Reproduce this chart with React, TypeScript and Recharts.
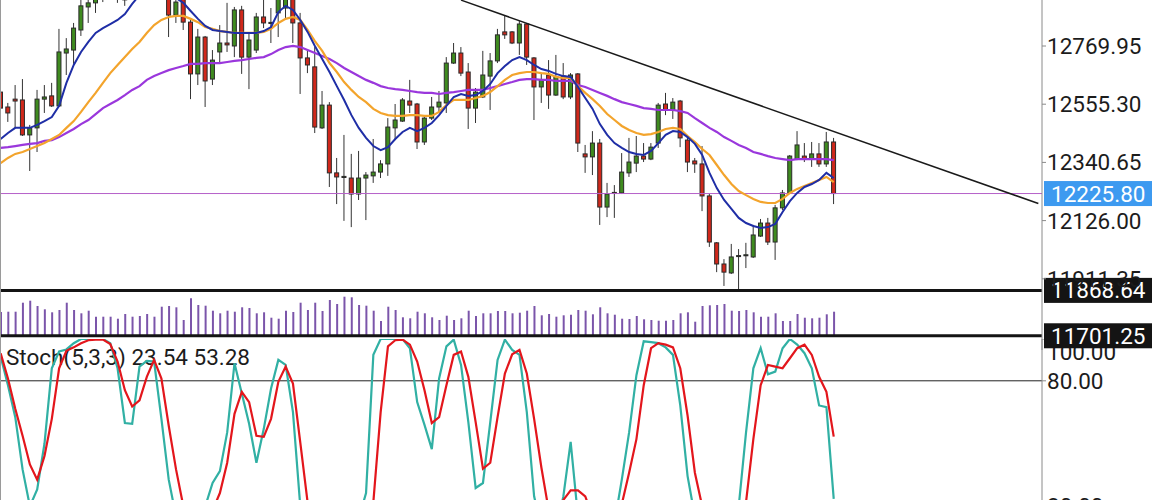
import React from 'react';
import { ComposedChart, Bar, Line, XAxis, YAxis, ReferenceLine } from 'recharts';

// ---------- price data (one entry per session) ----------
const OPEN = [
  12600,12545,12574,12571,12442,12468,12574,12586,12549,12744,
  12755,12829,12914,12929,12954,12977,12984,12940,12984,13013,
  13043,13080,13050,12958,12884,12951,12858,12667,12803,12648,
  12748,12781,12770,12903,12729,12755,12877,12853,12892,12910,
  12947,12855,12726,12693,12468,12552,12302,12285,12283,12224,
  12283,12291,12305,12335,12468,12493,12567,12556,12416,12504,
  12545,12560,12707,12744,12674,12541,12582,12659,12715,12822,
  12822,12781,12851,12726,12619,12663,12589,12659,12582,12667,
  12372,12361,12412,12176,12230,12228,12302,12338,12364,12353,
  12412,12556,12534,12567,12423,12346,12335,12217,12044,11966,
  11933,11995,11998,11992,12069,12117,12047,12173,12228,12353,
  12364,12353,12372,12335,12416,
];
const HIGH = [
  12626,12560,12626,12648,12479,12608,12626,12634,12833,12799,
  12855,12951,12958,12969,13013,13043,13013,12999,13069,13106,
  13124,13117,13087,12984,12958,12969,12873,12833,12807,12755,
  12847,12929,12914,12918,12818,12892,12947,12910,12977,12995,
  12969,12892,12755,12766,12604,12563,12357,12442,12372,12383,
  12305,12427,12349,12504,12556,12578,12645,12560,12515,12582,
  12604,12729,12781,12766,12707,12615,12752,12744,12833,12884,
  12825,12862,12855,12729,12670,12718,12737,12707,12670,12670,
  12405,12456,12427,12265,12257,12375,12431,12438,12412,12412,
  12560,12597,12578,12571,12434,12357,12401,12224,12047,11984,
  12040,12021,12044,12110,12132,12136,12184,12239,12368,12456,
  12412,12416,12412,12453,12431,
];
const LOW = [
  12527,12490,12468,12438,12309,12379,12523,12545,12545,12663,
  12704,12807,12855,12892,12932,12954,12929,12918,12958,12984,
  13013,13006,12969,12803,12855,12829,12574,12626,12545,12626,
  12707,12748,12729,12667,12611,12744,12836,12781,12803,12866,
  12781,12593,12670,12449,12464,12250,12187,12125,12102,12202,
  12128,12265,12283,12291,12423,12490,12523,12390,12405,12497,
  12523,12523,12704,12659,12464,12486,12578,12534,12707,12796,
  12777,12737,12700,12497,12560,12538,12586,12574,12574,12379,
  12302,12294,12110,12139,12136,12224,12287,12305,12342,12349,
  12394,12515,12501,12397,12305,12302,12161,12029,11936,11885,
  11929,11863,11951,11988,12066,12036,11981,12165,12224,12349,
  12342,12324,12324,12324,12187,
];
const CLOSE = [
  12541,12523,12567,12442,12468,12574,12582,12549,12748,12759,
  12836,12918,12929,12947,12984,13013,12954,12969,13032,13069,
  13087,13032,12995,12884,12932,12858,12667,12803,12641,12718,
  12781,12774,12903,12729,12792,12877,12855,12857,12958,12969,
  12855,12726,12700,12471,12552,12302,12287,12289,12224,12283,
  12294,12305,12335,12471,12497,12571,12552,12416,12504,12545,
  12563,12707,12744,12670,12541,12600,12663,12715,12811,12811,
  12781,12851,12729,12619,12645,12589,12656,12582,12663,12412,
  12361,12412,12176,12224,12226,12305,12342,12364,12353,12397,
  12552,12534,12563,12431,12342,12335,12217,12047,11966,11936,
  11992,11997,12000,12073,12117,12047,12173,12228,12364,12405,
  12353,12372,12335,12416,12225.8,
];

// ---------- moving averages ----------
const MA_FAST = [
  12427,12449,12468,12468,12468,12479,12493,12508,12549,12634,
  12700,12748,12785,12818,12836,12851,12866,12888,12925,12958,
  12977,12984,12977,12962,12947,12929,12899,12870,12844,12829,
  12825,12822,12818,12818,12818,12818,12825,12840,12895,12918,
  12903,12866,12822,12770,12722,12674,12622,12571,12515,12468,
  12431,12401,12386,12397,12427,12453,12468,12456,12468,12486,
  12515,12549,12582,12593,12586,12589,12604,12630,12670,12696,
  12718,12729,12718,12700,12685,12678,12667,12659,12656,12619,
  12578,12538,12482,12442,12412,12394,12379,12372,12368,12383,
  12412,12442,12456,12453,12434,12409,12368,12302,12246,12202,
  12169,12136,12117,12106,12099,12102,12114,12158,12198,12228,
  12250,12261,12276,12302,12283,
];
const MA_MID = [
  12338,12357,12372,12379,12390,12401,12412,12427,12442,12468,
  12493,12527,12563,12597,12634,12670,12700,12729,12759,12785,
  12818,12847,12866,12877,12881,12881,12870,12858,12840,12833,
  12825,12822,12818,12818,12818,12818,12822,12833,12855,12870,
  12877,12866,12829,12788,12752,12707,12674,12637,12608,12582,
  12563,12538,12523,12515,12512,12512,12515,12515,12512,12512,
  12527,12552,12571,12571,12571,12578,12586,12600,12622,12645,
  12663,12670,12674,12674,12670,12667,12656,12652,12652,12622,
  12597,12574,12549,12519,12497,12475,12460,12449,12442,12445,
  12453,12464,12468,12464,12438,12416,12390,12368,12331,12294,
  12261,12235,12220,12206,12195,12191,12191,12206,12228,12243,
  12254,12265,12276,12287,12268,
];
const MA_SLOW = [
  12394,12397,12401,12405,12409,12412,12420,12423,12434,12449,
  12464,12482,12497,12519,12541,12556,12571,12589,12608,12622,
  12645,12659,12670,12681,12689,12696,12704,12704,12707,12707,
  12707,12711,12715,12718,12722,12726,12729,12740,12755,12766,
  12770,12766,12755,12744,12733,12722,12707,12689,12674,12659,
  12645,12634,12622,12615,12611,12608,12604,12600,12597,12597,
  12593,12597,12600,12604,12608,12608,12608,12615,12622,12630,
  12637,12645,12648,12648,12645,12645,12641,12641,12641,12626,
  12619,12608,12597,12586,12574,12563,12556,12549,12541,12538,
  12534,12534,12534,12530,12523,12504,12486,12468,12453,12434,
  12420,12405,12394,12379,12372,12364,12357,12353,12349,12353,
  12353,12353,12353,12353,12349,
];

// ---------- volume ----------
const VOLUME = [
  230,233,233,323,343,290,257,227,250,323,
  250,217,243,183,183,183,163,210,183,190,
  210,183,283,290,277,150,367,300,293,243,
  217,243,233,277,270,217,227,173,163,243,
  230,323,250,323,240,350,310,383,377,300,
  293,243,140,283,250,177,167,233,217,177,
  150,193,150,167,243,190,217,217,240,240,
  217,223,243,290,197,210,183,197,203,250,
  243,207,277,217,203,163,160,190,157,150,
  143,143,150,217,227,133,290,297,300,310,
  243,240,250,227,183,183,217,140,140,210,
  173,167,173,207,233,
];

// ---------- stochastic (5,3,3) ----------
const STOCH_K = [
  91.6,77.9,62.6,37.6,20,28,50,86,94,95,
  98,100,100,100,100,98,86,59.8,59.4,86.8,
  89.5,89.2,61.8,32.7,15,5,3,8,20,31.1,
  36.8,55.3,88.4,73.9,59.4,40.8,56.9,76.3,90,87.6,
  65,20,8,3,2,5,3,4,8,14,
  26.3,92.4,100,100,100,100,95.6,69.8,58.9,47.3,
  81.1,96.5,99.7,87.6,60.2,28.7,31.1,60.2,90,99.7,
  94.8,92.4,65,24.7,10,3,8,24.7,50.8,15,
  5,3,2,5,12,32.7,55.3,82.7,98.9,98.5,
  98,96,92.4,68.2,34.4,15,5,2,2,3,
  8,20,55.3,86,95.6,83.1,84.4,95.6,100,97.3,
  93.2,86,68.2,67.4,23.54,
];
const STOCH_D = [
  93.2,81.1,66.6,53.7,40,32.7,44,61.8,86,94.4,
  96,98,99.4,99.7,99.7,97.6,89.2,75.5,67.7,70.6,
  81.9,90,81.1,58.5,37.6,20,10,7,10,18,
  26.3,40.8,64.2,74.7,69.8,53.7,53.2,61.8,79.5,86.8,
  78.7,50.5,22,12,6,3,4,4,5,8,
  15,22,65,96.5,99.4,99.7,97.3,89.2,75.5,59.8,
  62.6,77.9,92.4,94,81.9,60.2,37.9,40.8,62.6,83.5,
  92.7,94.8,83.5,61.8,38.4,18,12,23,27.6,27.6,
  24.7,15,6,4,8,21,36,52.1,77.9,95.6,
  98,97.3,96,86,63.4,36,20,10,4,2,
  4,10,22,52.1,77.9,87.6,86.8,86,90.8,95.6,
  97.3,92.4,81.9,74.7,53.28,
];

// ---------- levels and axis ticks ----------
const PRICE_TICKS = [11911.35, 12126.0, 12340.65, 12555.3, 12769.95];
const STOCH_TICKS = [20, 80, 100];
const LAST_PRICE = 12225.8;
const SUPPORT_1 = 11868.64;
const SUPPORT_2 = 11701.25;
const TREND_START = { x: 63, y: 12939 };
const TREND_END = { x: 142, y: 12189 };
const SLOT_COUNT = 143; // visible session slots, incl. empty right margin

const rows = Array.from({ length: SLOT_COUNT }, (_, i) =>
  i < OPEN.length
    ? {
        i,
        open: OPEN[i],
        high: HIGH[i],
        low: LOW[i],
        close: CLOSE[i],
        range: [LOW[i], HIGH[i]],
        maFast: MA_FAST[i],
        maMid: MA_MID[i],
        maSlow: MA_SLOW[i],
        vol: VOLUME[i],
        k: STOCH_K[i],
        d: STOCH_D[i],
      }
    : { i }
);

const FONT = 'Roboto, "Noto Sans", sans-serif';
const FS = 22.5;
const GREEN = '#3f8b1f';
const RED = '#d0281b';

const Candle = (props: any) => {
  const { x, y, width, height, payload } = props;
  if (!payload || payload.open == null || !isFinite(y) || !isFinite(height)) return null;
  const { open, close, high, low } = payload;
  const top = height >= 0 ? y : y + height;
  const h = Math.abs(height);
  const ratio = h / (high - low);
  const yO = top + (high - open) * ratio;
  const yC = top + (high - close) * ratio;
  const cx = x + width / 2;
  const bodyTop = Math.min(yO, yC);
  const bodyH = Math.max(Math.abs(yC - yO), 1);
  const up = close >= open;
  return (
    <g>
      <line x1={cx} x2={cx} y1={top} y2={top + h} stroke="#333" strokeWidth={1} />
      <rect x={cx - 2} y={bodyTop} width={4} height={bodyH} fill={up ? GREEN : RED} stroke="#2a2a2a" strokeWidth={1} />
    </g>
  );
};

const PriceTag = (props: any) => {
  const { viewBox, value, bg } = props;
  if (!viewBox) return null;
  const x = viewBox.x + viewBox.width + 2;
  const y = viewBox.y;
  return (
    <g>
      <rect x={x} y={y - 12.5} width={108} height={25} fill={bg} />
      <text x={x + 7} y={y} dy="0.36em" fill="#ffffff" fontSize={FS} fontFamily={FONT}>
        {Number(value).toFixed(2)}
      </text>
    </g>
  );
};

const StochTick = (props: any) => {
  const { x, y, payload } = props;
  const shift = payload.value === 100 ? 13 : 0;
  return (
    <text x={x} y={y + shift} dy="0.355em" textAnchor="start" fill="#1c1c1c" fontSize={FS} fontFamily={FONT}>
      {Number(payload.value).toFixed(2)}
    </text>
  );
};

const CHART_W = 1175;
const AXIS_W = 130;
const LEFT = -3;

export default function App() {
  const stochTitle = `Stoch(5,3,3) ${STOCH_K[STOCH_K.length - 1].toFixed(2)} ${STOCH_D[STOCH_D.length - 1].toFixed(2)}`;
  return (
    <div style={{ position: 'absolute', left: 0, top: 0, width: 1170, height: 500, overflow: 'hidden', background: '#ffffff' }}>
      {/* stochastic title */}
      <svg style={{ position: 'absolute', left: 0, top: 0 }} width={1170} height={500}>
        <text x={6} y={365} fill="#1c1c1c" fontSize={FS} fontFamily={FONT}>{stochTitle}</text>
      </svg>

      {/* stochastic panel */}
      <div style={{ position: 'absolute', left: LEFT, top: 339 }}>
        <ComposedChart width={CHART_W} height={209} data={rows} margin={{ top: 0, right: 0, bottom: 0, left: 0 }}>
          <XAxis dataKey="i" type="category" scale="band" hide />
          <YAxis
            orientation="right"
            width={AXIS_W}
            domain={[0, 100]}
            ticks={STOCH_TICKS}
            interval={0}
            tick={<StochTick />}
            tickSize={4}
            tickMargin={1}
            axisLine={{ stroke: '#8a8a8a' }}
            tickLine={{ stroke: '#8a8a8a' }}
          />
          <ReferenceLine y={80} stroke="#222" strokeWidth={1} />
          <ReferenceLine y={20} stroke="#222" strokeWidth={1} />
          <Line dataKey="k" stroke="#31b0a4" strokeWidth={2.2} dot={false} isAnimationActive={false} />
          <Line dataKey="d" stroke="#e3161c" strokeWidth={2.2} dot={false} isAnimationActive={false} />
        </ComposedChart>
      </div>

      {/* volume panel */}
      <div style={{ position: 'absolute', left: LEFT, top: 293 }}>
        <ComposedChart width={CHART_W} height={42} data={rows} margin={{ top: 0, right: AXIS_W, bottom: 0, left: 0 }}>
          <XAxis dataKey="i" type="category" scale="band" hide />
          <YAxis hide domain={[0, 420]} />
          <Bar dataKey="vol" fill="#7b55aa" barSize={2} isAnimationActive={false} />
        </ComposedChart>
      </div>

      {/* price panel */}
      <div style={{ position: 'absolute', left: LEFT, top: 0 }}>
        <ComposedChart width={CHART_W} height={350} data={rows} margin={{ top: 0, right: 0, bottom: 0, left: 0 }}>
          <XAxis dataKey="i" type="category" scale="band" hide />
          <YAxis
            orientation="right"
            width={AXIS_W}
            domain={[11648.8, 12939.6]}
            allowDataOverflow
            ticks={PRICE_TICKS}
            interval={0}
            tickFormatter={(v: number) => v.toFixed(2)}
            tick={{ fill: '#1c1c1c', fontSize: FS, fontFamily: FONT }}
            tickSize={4}
            tickMargin={1}
            axisLine={{ stroke: '#8a8a8a' }}
            tickLine={{ stroke: '#8a8a8a' }}
          />
          <ReferenceLine y={LAST_PRICE} stroke="#b561c9" strokeWidth={1} label={<PriceTag value={LAST_PRICE} bg="#3d9af0" />} />
          <ReferenceLine y={SUPPORT_1} stroke="#141414" strokeWidth={3} label={<PriceTag value={SUPPORT_1} bg="#141414" />} />
          <ReferenceLine y={SUPPORT_2} stroke="#141414" strokeWidth={3} label={<PriceTag value={SUPPORT_2} bg="#141414" />} />
          <Bar dataKey="range" barSize={5} shape={(p: any) => <Candle {...p} />} isAnimationActive={false} />
          <Line dataKey="maSlow" stroke="#9a37dc" strokeWidth={2.2} dot={false} isAnimationActive={false} />
          <Line dataKey="maMid" stroke="#f3a42c" strokeWidth={2.2} dot={false} isAnimationActive={false} />
          <Line dataKey="maFast" stroke="#1f2ea6" strokeWidth={2} dot={false} isAnimationActive={false} />
          <ReferenceLine segment={[TREND_START, TREND_END]} stroke="#1a1a1a" strokeWidth={1.5} ifOverflow="hidden" />
        </ComposedChart>
      </div>

      {/* left frame */}
      <div style={{ position: 'absolute', left: 0, top: 0, width: 1, height: 500, background: '#9a9a9a' }} />
    </div>
  );
}
